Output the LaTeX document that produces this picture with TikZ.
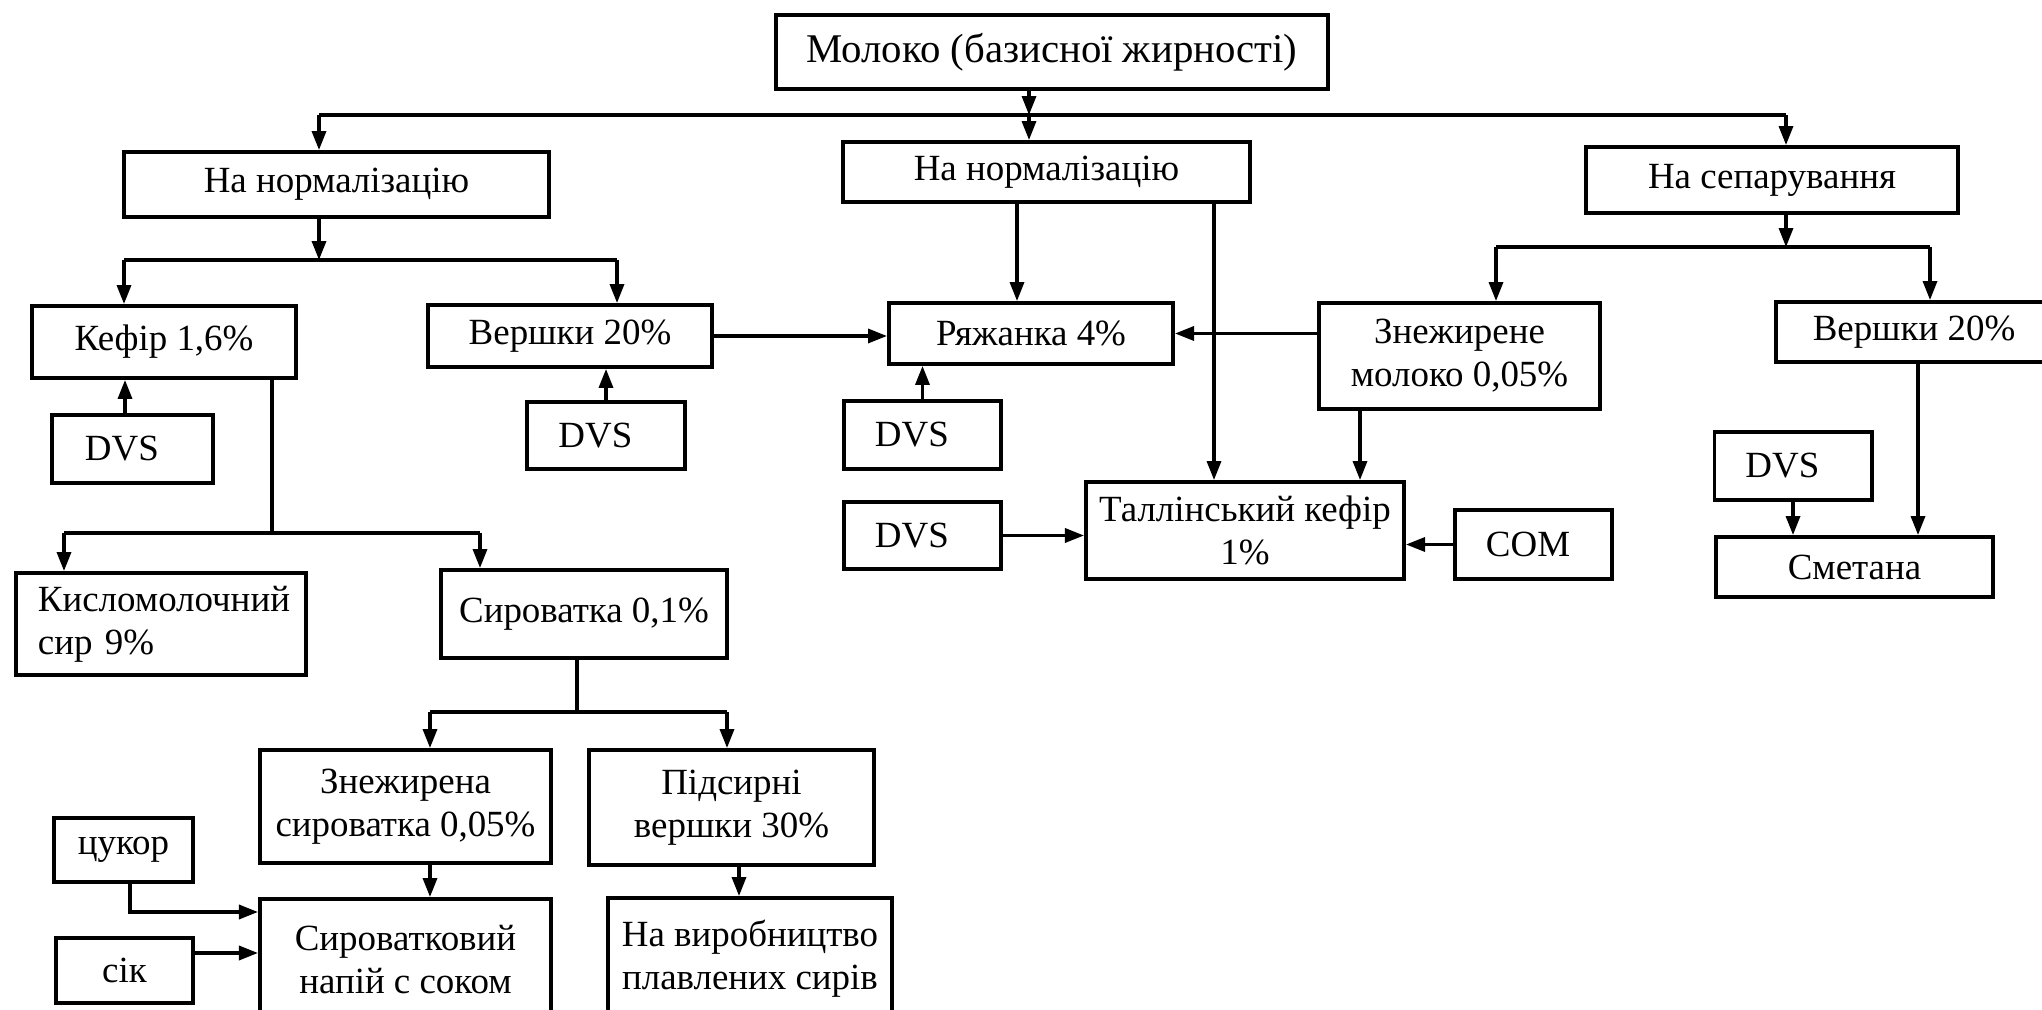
\documentclass[tikz,border=0pt]{standalone}
\usepackage{fontspec}
\setmainfont{Liberation Serif}
\usetikzlibrary{arrows.meta,positioning}

\tikzset{
  box/.style={draw, line width=1.1pt, inner sep=0pt, align=center,
    font=\fontsize{10.5}{12.2}\selectfont},
  dvsbox/.style={box, inner xsep=0.31cm, text width=0.95cm, align=left},
  link/.style={line width=0.9pt},
  arr/.style={link, -{Triangle[length=5.4pt,width=4pt]}},
}

\begin{document}
\begin{tikzpicture}[x=0.01cm,y=-0.01cm]
  \useasboundingbox (0,0) rectangle (2042,1010);
  % boxes
  \node[box, minimum width=5.52cm, minimum height=0.74cm, font=\fontsize{11.6}{13}\selectfont] (milk) at (1052,52) {Молоко (базисної жирності)};
  \node[box, minimum width=4.25cm, minimum height=0.65cm] (normL) at (336.5,184.5) {На нормалізацію};
  \node[box, minimum width=4.07cm, minimum height=0.60cm] (normM) at (1046.5,172) {На нормалізацію};
  \node[box, minimum width=3.72cm, minimum height=0.66cm] (sep) at (1772,180) {На сепарування};
  \node[box, minimum width=2.64cm, minimum height=0.72cm] (kefir) at (164,342) {Кефір 1,6\%};
  \node[box, minimum width=2.84cm, minimum height=0.62cm] (crL) at (570,336) {Вершки 20\%};
  \node[box, minimum width=2.84cm, minimum height=0.61cm] (ryazh) at (1031,333.5) {Ряжанка 4\%};
  \node[box, minimum width=2.81cm, minimum height=1.06cm] (skim) at (1459.5,356) {Знежирене\\молоко 0,05\%};
  \node[box, minimum width=2.76cm, minimum height=0.60cm] (crR) at (1914,332) {Вершки 20\%};
  \node[dvsbox, minimum width=1.61cm, minimum height=0.68cm] (dvs1) at (132.5,449) {DVS};
  \node[dvsbox, minimum width=1.58cm, minimum height=0.67cm] (dvs2) at (606,435.5) {DVS};
  \node[dvsbox, minimum width=1.57cm, minimum height=0.68cm] (dvs3) at (922.5,435) {DVS};
  \node[dvsbox, minimum width=1.57cm, minimum height=0.67cm] (dvs4) at (922.5,535.5) {DVS};
  \node[box, minimum width=3.18cm, minimum height=0.97cm] (tall) at (1245,530.5) {Таллінський кефір\\1\%};
  \node[dvsbox, minimum width=1.57cm, minimum height=0.69cm] (com) at (1533.5,544.5) {COM};
  \node[dvsbox, minimum width=1.54cm, minimum height=0.68cm] (dvs5) at (1793,466) {DVS};
  \node[box, minimum width=2.77cm, minimum height=0.60cm] (smet) at (1854.5,567) {Сметана};
  \node[box, inner xsep=0.22cm, text width=2.46cm, align=left, minimum height=1.02cm] (kysl) at (161,624) {Кисломолочний\\сир 9\%};
  \node[box, minimum width=2.86cm, minimum height=0.88cm] (syr) at (584,614) {Сироватка 0,1\%};
  \node[box, minimum width=2.91cm, minimum height=1.13cm] (skimw) at (405.5,806.5) {Знежирена\\сироватка 0,05\%};
  \node[box, minimum width=2.85cm, minimum height=1.15cm] (podsyr) at (731.5,807.5) {Підсирні\\вершки 30\%};
  \node[box, minimum width=2.91cm, minimum height=1.21cm] (drink) at (405.5,959.5) {Сироватковий\\напій с соком};
  \node[box, minimum width=2.84cm, minimum height=1.22cm] (proc) at (750,959) {На виробництво\\плавлених сирів};
  \node[box, minimum width=1.39cm, minimum height=0.64cm] (sugar) at (123.5,850) {цукор};
  \node[box, minimum width=1.37cm, minimum height=0.65cm] (juice) at (124.5,970.5) {сік};

  % top level
  \coordinate (topbus) at (1029,115);
  \draw[arr] (topbus |- milk.south) -- (topbus);
  \draw[link] (319,115) coordinate (topbusL) -- (1786,115) coordinate (topbusR);
  \draw[arr] (topbusL) -- (topbusL |- normL.north);
  \draw[arr] (topbus) -- (topbus |- normM.north);
  \draw[arr] (topbusR) -- (topbusR |- sep.north);

  % left branch
  \coordinate (lbus) at (319,260);
  \draw[arr] (lbus |- normL.south) -- (lbus);
  \draw[link] (124,260) coordinate (lbusL) -- (617,260) coordinate (lbusR);
  \draw[arr] (lbusL) -- (lbusL |- kefir.north);
  \draw[arr] (lbusR) -- (lbusR |- crL.north);
  \coordinate (k1) at (125,0);
  \draw[arr] (k1 |- dvs1.north) -- (k1 |- kefir.south);
  \draw[arr] (dvs2.north) -- (dvs2.north |- crL.south);
  \draw[arr] (dvs3.north) -- (dvs3.north |- ryazh.south);
  \draw[arr] (crL.east) -- (crL.east -| ryazh.west);

  % middle branch
  \coordinate (rzx) at (1017,0);
  \draw[arr] (rzx |- normM.south) -- (rzx |- ryazh.north);
  \coordinate (tkx) at (1214,0);
  \draw[arr] (tkx |- normM.south) -- (tkx |- tall.north);
  \draw[arr] (skim.west |- ryazh.east) -- (ryazh.east);
  \coordinate (skx) at (1360,0);
  \draw[arr] (skx |- skim.south) -- (skx |- tall.north);
  \draw[arr] (dvs4.east) -- (dvs4.east -| tall.west);
  \draw[arr] (com.west) -- (com.west -| tall.east);

  % separation
  \coordinate (sbus) at (1786,247);
  \draw[arr] (sbus |- sep.south) -- (sbus);
  \draw[link] (1496,247) coordinate (sbusL) -- (1930,247) coordinate (sbusR);
  \draw[arr] (sbusL) -- (sbusL |- skim.north);
  \draw[arr] (sbusR) -- (sbusR |- crR.north);
  \draw[arr] (dvs5.south) -- (dvs5.south |- smet.north);
  \coordinate (crx) at (1918,0);
  \draw[arr] (crx |- crR.south) -- (crx |- smet.north);

  % kefir by-products
  \coordinate (kbus) at (272,533);
  \draw[link] (kbus |- kefir.south) -- (kbus);
  \draw[link] (64,533) coordinate (kbusL) -- (480,533) coordinate (kbusR);
  \draw[arr] (kbusL) -- (kbusL |- kysl.north);
  \draw[arr] (kbusR) -- (kbusR |- syr.north);

  % whey
  \coordinate (wbus) at (577,712);
  \draw[link] (wbus |- syr.south) -- (wbus);
  \draw[link] (430,712) coordinate (wbusL) -- (727,712) coordinate (wbusR);
  \draw[arr] (wbusL) -- (wbusL |- skimw.north);
  \draw[arr] (wbusR) -- (wbusR |- podsyr.north);
  \draw[arr] (wbusL |- skimw.south) -- (wbusL |- drink.north);
  \coordinate (px) at (739,0);
  \draw[arr] (px |- podsyr.south) -- (px |- proc.north);
  \coordinate (sgx) at (130,912);
  \draw[arr] (sgx |- sugar.south) -- (sgx) -- (sgx -| drink.west);
  \coordinate (jy) at (0,953);
  \draw[arr] (jy -| juice.east) -- (jy -| drink.west);
\end{tikzpicture}
\end{document}
